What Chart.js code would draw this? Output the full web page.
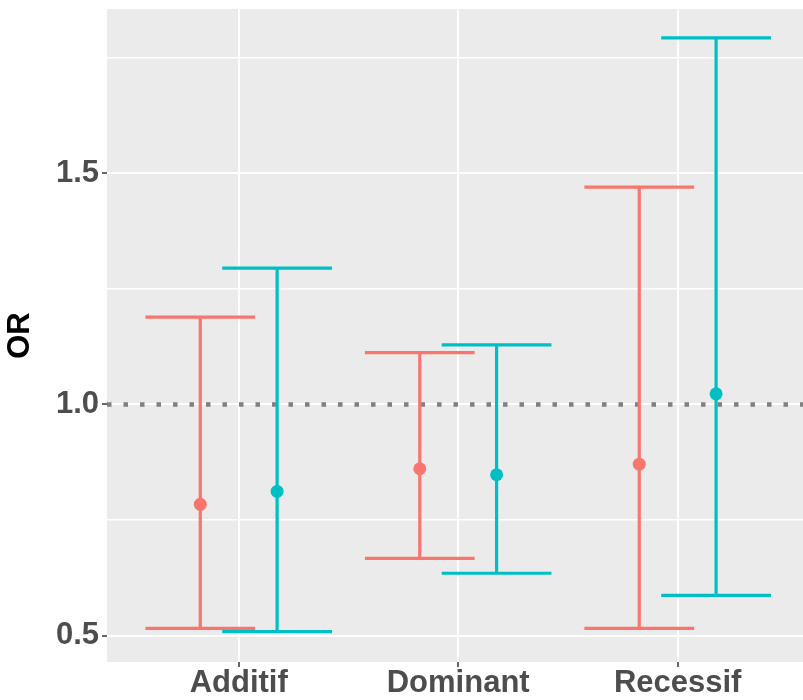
<!DOCTYPE html>
<html>
<head>
<meta charset="utf-8">
<script src="https://cdn.jsdelivr.net/npm/chart.js@4"></script>
<style>
  html, body { margin: 0; padding: 0; background: #fff; overflow: hidden; }
  #wrap { width: 803px; height: 700px; position: relative; }
  #wrap canvas { display: block; }
</style>
</head>
<body>
<div id="wrap"><canvas id="orChart"></canvas></div>
<script>
// categories and model values
const categories = ['Additif', 'Dominant', 'Recessif'];

const redOR    = [0.784, 0.861, 0.871];
const redLow   = [0.516, 0.667, 0.516];
const redHigh  = [1.189, 1.112, 1.470];

const cyanOR   = [0.812, 0.848, 1.023];
const cyanLow  = [0.509, 0.635, 0.587];
const cyanHigh = [1.295, 1.129, 1.793];

const yTicks = [0.5, 0.75, 1.0, 1.25, 1.5, 1.75];
const yMajor = [0.5, 1.0, 1.5];
const refLine = 1.0;

const RED = '#F8766D';
const CYAN = '#00BFC4';
const DODGE = 0.175;   // half of the dodge spacing
const CAP = 0.25;      // half-width of error bar caps
const X_MIN = 0.4, X_MAX = 3.571;

function errorBarPoints(low, high, shift) {
    const pts = [];
    categories.forEach((c, i) => {
        const x = i + 1 + shift;
        pts.push({ x: x, y: low[i] }, { x: x, y: high[i] }, { x: x, y: null });
        pts.push({ x: x - CAP, y: high[i] }, { x: x + CAP, y: high[i] }, { x: x, y: null });
        pts.push({ x: x - CAP, y: low[i] }, { x: x + CAP, y: low[i] }, { x: x, y: null });
    });
    return pts;
}

function centerPoints(vals, shift) {
    return vals.map((v, i) => ({ x: i + 1 + shift, y: v }));
}

const panelBg = {
    id: 'panelBg',
    beforeDraw(chart) {
        const { ctx, chartArea: a } = chart;
        ctx.save();
        ctx.fillStyle = '#EBEBEB';
        ctx.fillRect(a.left, a.top, a.right - a.left, a.bottom - a.top);
        ctx.restore();
    }
};

// no extra room for edge labels: the panel runs right to the canvas edge
function noEdgePadding(scale) {
    scale.paddingLeft = 0;
    scale.paddingRight = 0;
    scale.paddingTop = 0;
    scale.paddingBottom = 0;
}

const ctx = document.getElementById('orChart').getContext('2d');
new Chart(ctx, {
    type: 'scatter',
    data: {
        datasets: [
            {
                data: [{ x: X_MIN, y: refLine }, { x: X_MAX, y: refLine }],
                showLine: true, borderColor: '#808080', borderWidth: 4.5,
                borderDash: [4.5, 12], pointRadius: 0, order: 10
            },
            {
                data: errorBarPoints(redLow, redHigh, -DODGE),
                showLine: true, spanGaps: false, borderColor: RED, borderWidth: 3.2,
                pointRadius: 0, order: 5
            },
            {
                data: errorBarPoints(cyanLow, cyanHigh, DODGE),
                showLine: true, spanGaps: false, borderColor: CYAN, borderWidth: 3.2,
                pointRadius: 0, order: 5
            },
            {
                data: centerPoints(redOR, -DODGE),
                backgroundColor: RED, borderColor: RED, pointRadius: 6.5, borderWidth: 0, order: 1
            },
            {
                data: centerPoints(cyanOR, DODGE),
                backgroundColor: CYAN, borderColor: CYAN, pointRadius: 6.5, borderWidth: 0, order: 1
            }
        ]
    },
    options: {
        responsive: true,
        maintainAspectRatio: false,
        animation: false,
        layout: { autoPadding: false, padding: { left: 0, right: 0, top: 9, bottom: 0 } },
        plugins: { legend: { display: false }, tooltip: { enabled: false } },
        scales: {
            x: {
                type: 'linear',
                min: X_MIN,
                max: X_MAX,
                afterBuildTicks: (scale) => {
                    scale.ticks = categories.map((c, i) => ({ value: i + 1 }));
                },
                afterFit: (scale) => { scale.height = 38; noEdgePadding(scale); },
                ticks: {
                    autoSkip: false,
                    maxRotation: 0,
                    padding: -2,
                    color: '#4D4D4D',
                    font: { family: 'Liberation Sans, Arial, sans-serif', size: 31, weight: 'bold' },
                    callback: (v) => categories[Math.round(v) - 1] || ''
                },
                grid: {
                    color: '#FFFFFF',
                    lineWidth: 2,
                    tickColor: '#333333',
                    tickWidth: 1.5,
                    tickLength: 5
                },
                border: { display: false }
            },
            y: {
                min: 0.4431,
                max: 1.8553,
                afterBuildTicks: (scale) => {
                    scale.ticks = yTicks.map(v => ({ value: v }));
                },
                afterFit: (scale) => { scale.width = 107; noEdgePadding(scale); },
                ticks: {
                    padding: 3,
                    color: '#4D4D4D',
                    font: { family: 'Liberation Sans, Arial, sans-serif', size: 31, weight: 'bold' },
                    callback: (v) => yMajor.includes(v) ? v.toFixed(1) : ''
                },
                grid: {
                    color: '#FFFFFF',
                    lineWidth: (c) => (c.tick && yMajor.includes(c.tick.value)) ? 2 : 1.5,
                    tickColor: (c) => (c.tick && yMajor.includes(c.tick.value)) ? '#333333' : 'rgba(0,0,0,0)',
                    tickWidth: 1.5,
                    tickLength: 5
                },
                border: { display: false },
                title: {
                    display: true,
                    text: 'OR',
                    color: '#000000',
                    font: { family: 'Liberation Sans, Arial, sans-serif', size: 31, weight: 'bold' },
                    padding: { top: 2, bottom: 0 }
                }
            }
        }
    },
    plugins: [panelBg]
});
</script>
</body>
</html>
